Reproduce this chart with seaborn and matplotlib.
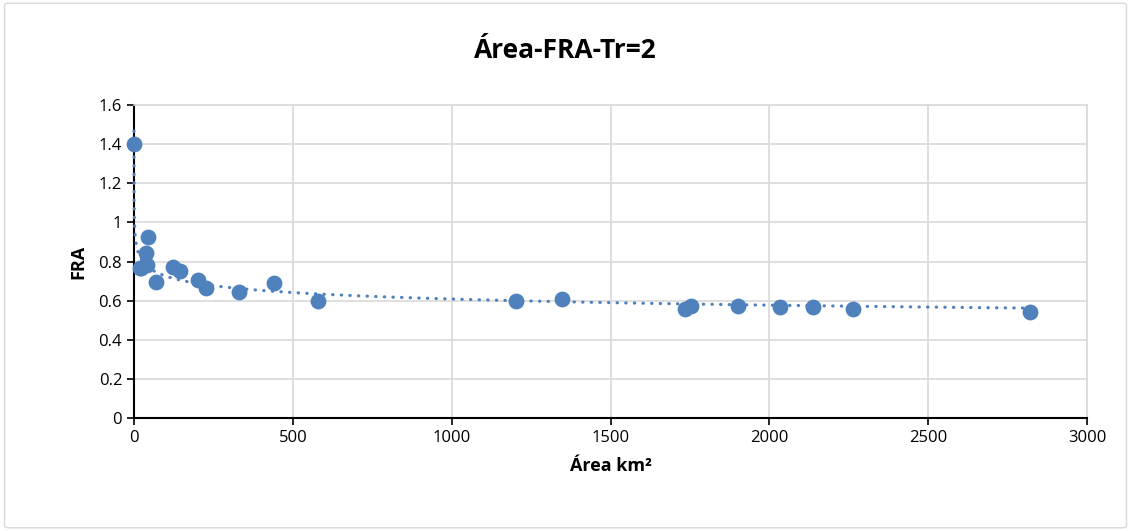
import matplotlib
matplotlib.use("Agg")
import matplotlib.pyplot as plt
import numpy as np
import pandas as pd
import seaborn as sns
from matplotlib.patches import FancyBboxPatch

# values
area_km2 = [0.01, 19, 22, 38, 40, 45, 68, 122, 145, 200, 227, 330, 441, 580,
            1204, 1346, 1734, 1752, 1902, 2033, 2138, 2262, 2820]
fra = [1.40, 0.768, 0.767, 0.842, 0.782, 0.924, 0.697, 0.774, 0.753, 0.705, 0.663,
       0.644, 0.689, 0.600, 0.600, 0.607, 0.556, 0.573, 0.573, 0.569, 0.566, 0.556, 0.543]

x_ticks = [0, 500, 1000, 1500, 2000, 2500, 3000]
y_ticks = [0, 0.2, 0.4, 0.6, 0.8, 1, 1.2, 1.4, 1.6]
y_tick_labels = ["0", "0.2", "0.4", "0.6", "0.8", "1", "1.2", "1.4", "1.6"]

BLUE = "#4f81bd"

df = pd.DataFrame({"area": area_km2, "fra": fra})

sns.set_theme(style="white")
plt.rcParams["font.family"] = ["Open Sans", "DejaVu Sans"]

fig = plt.figure(figsize=(11.31, 5.31), dpi=100)
ax = fig.add_axes([134 / 1131, 1 - 418 / 531, (1087 - 134) / 1131, (418 - 105) / 531])

# outer chart border
fig.patches.append(FancyBboxPatch((0.004, 0.006), 0.992, 0.988, boxstyle="round,pad=0,rounding_size=0.004",
                                  transform=fig.transFigure, fill=False, edgecolor="#d9d9d9", linewidth=1))

# power trendline (Excel style), drawn above the spine so the steep part shows
b, log_a = np.polyfit(np.log(df["area"]), np.log(df["fra"]), 1)
trend_x = np.concatenate([np.geomspace(df["area"].min(), 50, 300), np.linspace(50, df["area"].max(), 200)])
trend_y = np.exp(log_a) * trend_x ** b
ax.plot(trend_x, trend_y, linestyle=(0, (0.1, 2.6)), color=BLUE, linewidth=2.3, dash_capstyle="round",
        zorder=2.8, clip_on=False)

sns.scatterplot(data=df, x="area", y="fra", ax=ax, color=BLUE, s=130, edgecolor=BLUE, linewidth=0,
                zorder=3, clip_on=False)

ax.set_xlim(0, 3000)
ax.set_ylim(0, 1.6)
ax.set_xticks(x_ticks)
ax.set_xticklabels([str(t) for t in x_ticks])
ax.set_yticks(y_ticks)
ax.set_yticklabels(y_tick_labels)
ax.grid(True, color="#d9d9d9", linewidth=1.2)
ax.set_axisbelow(True)

for side in ["top", "right"]:
    ax.spines[side].set_color("#d9d9d9")
    ax.spines[side].set_linewidth(1.2)
for side in ["left", "bottom"]:
    ax.spines[side].set_color("black")
    ax.spines[side].set_linewidth(1.5)
ax.tick_params(axis="both", direction="out", length=5, width=1.2, color="black",
               labelsize=12, labelcolor="black", bottom=True, left=True)

ax.set_xlabel("Área km²", fontsize=13, fontweight="bold", color="black", labelpad=8)
ax.set_ylabel("FRA", fontsize=13, fontweight="bold", color="black", labelpad=8)
fig.text(0.5, 1 - 50 / 531, "Área-FRA-Tr=2", ha="center", va="center", fontsize=19, fontweight="bold", color="black")

fig.savefig("out.png", dpi=100)
